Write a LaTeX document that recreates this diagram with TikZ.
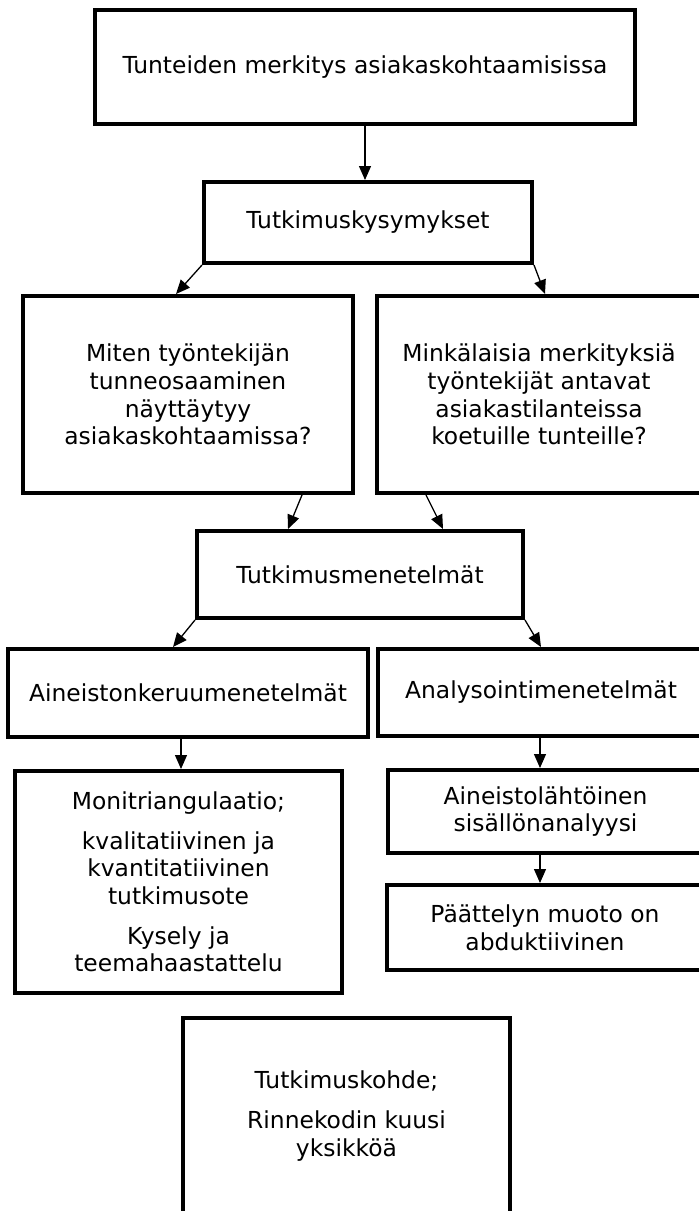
\documentclass[tikz,border=0pt]{standalone}
\usepackage{fontspec}
\setmainfont{DejaVu Sans}
\usetikzlibrary{arrows.meta,calc}
\begin{document}
\begin{tikzpicture}[x=1pt,y=-1pt,
  txt/.style={align=center, inner sep=0pt, font=\fontsize{23.4}{27.7}\selectfont},
  box/.style={draw, line width=4pt, txt},
  arr/.style={line width=1.3pt, -{Triangle[length=14pt,width=12pt]}}]
\useasboundingbox (0,0) rectangle (699,1211);
\clip (0,0) rectangle (699,1211);
\fill[white] (0,0) rectangle (699,1211);

\node[box, minimum width=540pt, minimum height=114pt] (top) at (365,67) {Tunteiden merkitys asiakaskohtaamisissa};
\node[box, minimum width=328pt, minimum height=81pt] (q) at (368,222.5) {Tutkimuskysymykset};
\node[box, minimum width=330pt, minimum height=197pt] (lq) at (188,394.5) {Miten työntekijän\\tunneosaaminen\\näyttäytyy\\asiakaskohtaamissa?};
\node[box, minimum width=324pt, minimum height=197pt] (rq) at (539,394.5) {Minkälaisia merkityksiä\\työntekijät antavat\\asiakastilanteissa\\koetuille tunteille?};
\node[box, minimum width=326pt, minimum height=87pt] (tm) at (360,574.5) {Tutkimusmenetelmät};
\node[box, minimum width=360pt, minimum height=88pt] (ak) at (188,693) {Aineistonkeruumenetelmät};
\node[box, minimum width=326pt, minimum height=87pt] (an) at (541,692.5) {\strut Analysointimenetelmät};
\node[box, minimum width=327pt, minimum height=222pt] (mt) at (178.5,882) {Monitriangulaatio;\\[12pt]kvalitatiivinen ja\\kvantitatiivinen\\tutkimusote\\[12pt]Kysely ja\\teemahaastattelu};
\node[box, minimum width=315pt, minimum height=83pt] (al) at (545.5,811.5) {Aineistolähtöinen\\sisällönanalyysi};
\node[box, minimum width=316pt, minimum height=85pt] (pm) at (545,927.5) {Päättelyn muoto on\\abduktiivinen};
\node[box, minimum width=327pt, minimum height=198pt] (tk) at (346.5,1117) {};
\node[txt] (tkt) at (346.5,1116) {Tutkimuskohde;\\[12pt]Rinnekodin kuusi\\yksikköä};

\draw[arr] (top.south) -- (top.south |- q.north);
\draw[arr] (q.south west) -- ($(lq.north west)+(155,0)$);
\draw[arr] (q.south east) -- ($(rq.north west)+(170,0)$);
\draw[arr] ($(lq.south west)+(281,0)$) -- ($(tm.north west)+(93,0)$);
\draw[arr] ($(rq.south west)+(51,0)$) -- ($(tm.north west)+(248,0)$);
\draw[arr] (tm.south west) -- ($(ak.north west)+(167,0)$);
\draw[arr] (tm.south east) -- ($(an.north west)+(165,0)$);
\draw[arr] ($(ak.south west)+(175,0)$) coordinate (akb) -- (akb |- mt.north);
\draw[arr] ($(an.south west)+(164,0)$) coordinate (anb) -- (anb |- al.north);
\draw[arr] ($(al.south west)+(154,0)$) coordinate (alb) -- (alb |- pm.north);
\end{tikzpicture}
\end{document}
